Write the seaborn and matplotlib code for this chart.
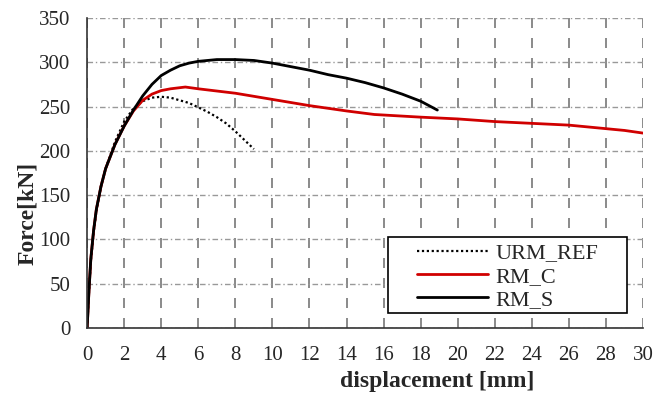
import pandas as pd
import numpy as np
from matplotlib import pyplot as plt
from matplotlib.patches import Rectangle
import seaborn as sns

urm_x = [0, 0.1, 0.2, 0.35, 0.5, 0.75, 1.0, 1.5, 2.0, 2.5, 3.0, 3.5, 4.0, 4.5, 5.0, 5.5, 6.0, 6.5, 7.0, 7.5, 8.0, 8.5, 9.0]
urm_y = [0, 40, 75, 108, 132, 160, 180, 210, 233, 248, 256, 260, 261, 260, 257, 254, 249, 244, 238, 231, 222, 212, 202]

rmc_x = [0, 0.1, 0.2, 0.35, 0.5, 0.75, 1.0, 1.5, 2.0, 2.5, 3.0, 3.5, 4.0, 4.5, 5.3, 6.0, 8.0, 10.0, 12.0, 14.0, 15.5, 18.0, 20.0, 22.0, 24.0, 26.0, 27.0, 28.0, 29.0, 30.0]
rmc_y = [0, 42, 78, 110, 134, 160, 180, 207, 228, 245, 257, 264, 268, 270, 272, 270, 265, 258, 251, 245, 241, 238, 236, 233, 231, 229, 227, 225, 223, 220]

rms_x = [0, 0.1, 0.2, 0.35, 0.5, 0.75, 1.0, 1.5, 2.0, 2.5, 3.0, 3.5, 4.0, 4.5, 5.0, 5.5, 6.0, 7.0, 8.0, 9.0, 10.0, 11.0, 12.0, 13.0, 14.0, 15.0, 16.0, 17.0, 18.0, 18.9]
rms_y = [0, 42, 78, 110, 134, 160, 180, 207, 228, 246, 262, 275, 285, 291, 296, 299, 301, 303, 303, 302, 299, 295, 291, 286, 282, 277, 271, 264, 256, 246]

sns.set_style("white")
plt.rcParams["font.family"] = ["Liberation Serif", "DejaVu Serif"]

fig = plt.figure(figsize=(6.65, 3.94), dpi=100)
ax = fig.add_axes([0.131, 0.1675, 0.836, 0.787])

sns.lineplot(x=urm_x, y=urm_y, ax=ax, color="black", linestyle=(0, (1, 1.2)), lw=1.6, label="URM_REF", sort=False)
sns.lineplot(x=rmc_x, y=rmc_y, ax=ax, color="#d00000", lw=2, label="RM_C", sort=False)
sns.lineplot(x=rms_x, y=rms_y, ax=ax, color="black", lw=2, label="RM_S", sort=False)

ax.set_xlim(0, 30)
ax.set_ylim(0, 350)
ax.set_xticks(np.arange(0, 31, 2))
ax.set_yticks(np.arange(0, 351, 50))
ax.xaxis.grid(True, color="#777777", linestyle=(0, (6, 6)), lw=1.2)
ax.yaxis.grid(True, color="#999999", linestyle=(0, (4, 2, 1, 2)), lw=1)
ax.set_axisbelow(True)
for s in ["top", "right"]:
    ax.spines[s].set_visible(False)
for s in ["left", "bottom"]:
    ax.spines[s].set_color("#333333")
    ax.spines[s].set_linewidth(1.2)
ax.tick_params(axis="x", labelsize=15, length=0, pad=13)
ax.tick_params(axis="y", labelsize=15, length=0, pad=12)
ax.set_xlabel("displacement [mm]", fontsize=17, fontweight="bold", labelpad=4, x=0.63)
ax.set_ylabel("Force[kN]", fontsize=17, fontweight="bold", labelpad=1, y=0.37)

# legend box is wider than its content in the original
ax.add_patch(Rectangle((0.541, 0.048), 0.43, 0.246, transform=ax.transAxes, fill=True,
                       facecolor="white", edgecolor="black", lw=1.2, zorder=4))
leg = ax.legend(loc="upper left", bbox_to_anchor=(0.59, 0.282), fontsize=16, frameon=False,
                handlelength=3.2, borderpad=0.1, labelspacing=0.13, handletextpad=0.3, borderaxespad=0)
leg.set_zorder(5)

plt.savefig("out.png", dpi=100)
